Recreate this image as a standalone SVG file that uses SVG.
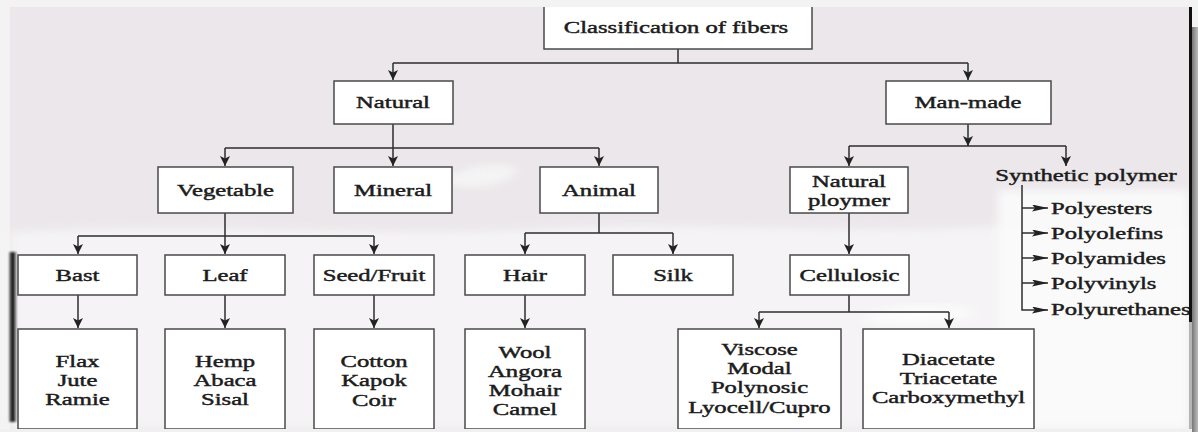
<svg xmlns="http://www.w3.org/2000/svg" width="1198" height="432" viewBox="0 0 1198 432">
<style>
.box{fill:#fff;stroke:#4a4a4a;stroke-width:1.5}
.t{font-family:"Liberation Serif","Times New Roman",serif;font-size:17px;fill:#1c1c1c;stroke:#1c1c1c;stroke-width:0.45;text-anchor:middle}
.tl{text-anchor:start}
.c{fill:none;stroke:#2e2e2e;stroke-width:1.5}
.a{marker-end:url(#ah)}
.as{marker-end:url(#ahs)}
</style>
<defs>
<marker id="ah" markerWidth="10" markerHeight="10" refX="10" refY="5" orient="auto" markerUnits="userSpaceOnUse"><path d="M0,0 L10,5 L0,10 L2.5,5 z" fill="#222"/></marker>
<marker id="ahs" markerWidth="16" markerHeight="7" refX="16" refY="3.5" orient="auto" markerUnits="userSpaceOnUse"><path d="M0,0 L16,3.5 L0,7 L3,3.5 z" fill="#222"/></marker>
<linearGradient id="lg" x1="0" y1="0" x2="1" y2="0"><stop offset="0" stop-color="#9a9a9a"/><stop offset="0.35" stop-color="#111"/><stop offset="0.7" stop-color="#333"/><stop offset="1" stop-color="#e5e5e5"/></linearGradient>
<linearGradient id="rg" x1="0" y1="0" x2="1" y2="0"><stop offset="0" stop-color="#777"/><stop offset="1" stop-color="#bdbdbd"/></linearGradient>
<filter id="bl" x="-10%" y="-10%" width="120%" height="120%"><feGaussianBlur stdDeviation="4"/></filter>
<filter id="bl2" x="-50%" y="-10%" width="200%" height="120%"><feGaussianBlur stdDeviation="1.2"/></filter>
</defs>
<g id="background">
<rect x="0" y="0" width="1198" height="432" fill="#f3f3f3"/>
<rect x="10" y="7" width="1180" height="422" fill="#ebe7ea"/>
<path d="M10,232 C200,222 400,238 560,228 C700,220 850,236 1000,226 L1188,226 L1188,429 L10,429 Z" fill="#f7f6f7" opacity="0.85" filter="url(#bl)"/>
<rect x="998" y="190" width="190" height="239" fill="#fbfbfb" opacity="0.9" filter="url(#bl)"/>
<path d="M440,180 C470,165 500,160 520,170 C505,185 470,195 440,180 Z" fill="#f8f8f8" opacity="0.8" filter="url(#bl)"/>
<path d="M860,318 C890,305 930,300 980,312 C950,326 900,330 860,318 Z" fill="#fdfdfd" opacity="0.9" filter="url(#bl)"/>
<rect x="9" y="252" width="8" height="170" fill="url(#lg)" filter="url(#bl2)"/>
</g>
<g id="connectors">
<path class="c" d="M678,49 V63 M393,63 H968"/>
<path class="c a" d="M393,63 V80"/>
<path class="c a" d="M968,63 V80"/>
<path class="c" d="M393,124 V148 M225,148 H599"/>
<path class="c a" d="M225,148 V166"/>
<path class="c a" d="M393,148 V166"/>
<path class="c a" d="M599,148 V166"/>
<path class="c a" d="M968,124 V146"/>
<path class="c" d="M849,146 H1066"/>
<path class="c a" d="M849,146 V166"/>
<path class="c a" d="M1066,146 V166"/>
<path class="c" d="M225,213 V236 M78,236 H374"/>
<path class="c a" d="M78,236 V254"/>
<path class="c a" d="M225,236 V254"/>
<path class="c a" d="M374,236 V254"/>
<path class="c" d="M599,213 V233 M525,233 H673"/>
<path class="c a" d="M525,233 V254"/>
<path class="c a" d="M673,233 V254"/>
<path class="c a" d="M849,213 V254"/>
<path class="c a" d="M78,295 V328"/>
<path class="c a" d="M225,295 V328"/>
<path class="c a" d="M374,295 V328"/>
<path class="c a" d="M525,295 V328"/>
<path class="c" d="M849,295 V312 M759,312 H949"/>
<path class="c a" d="M759,312 V328"/>
<path class="c a" d="M949,312 V328"/>
<path class="c as" d="M1022,185 V310 H1048"/>
<path class="c as" d="M1022,208 H1048"/>
<path class="c as" d="M1022,233 H1048"/>
<path class="c as" d="M1022,258 H1048"/>
<path class="c as" d="M1022,283 H1048"/>
</g>
<g id="n-classification">
<rect x="544" y="7" width="268" height="42" fill="#fff"/>
<path d="M544,7 V49 H812 V7" fill="none" stroke="#4a4a4a" stroke-width="1.5"/>
<text class="t" transform="matrix(1.45 0 0 1 676 33)">Classification of fibers</text>
</g>
<g id="n-natural"><rect class="box" x="334" y="81" width="119" height="43"/><text class="t" transform="matrix(1.45 0 0 1 393 108)">Natural</text></g>
<g id="n-manmade"><rect class="box" x="886" y="81" width="165" height="43"/><text class="t" transform="matrix(1.45 0 0 1 968 108)">Man-made</text></g>
<g id="n-vegetable"><rect class="box" x="158" y="167" width="135" height="46"/><text class="t" transform="matrix(1.45 0 0 1 225.5 196)">Vegetable</text></g>
<g id="n-mineral"><rect class="box" x="334" y="167" width="118" height="46"/><text class="t" transform="matrix(1.45 0 0 1 393 196)">Mineral</text></g>
<g id="n-animal"><rect class="box" x="540" y="167" width="118" height="46"/><text class="t" transform="matrix(1.45 0 0 1 599 196)">Animal</text></g>
<g id="n-naturalpolymer"><rect class="box" x="790" y="167" width="118" height="46"/><text class="t" transform="matrix(1.45 0 0 1 849 187)">Natural</text><text class="t" transform="matrix(1.45 0 0 1 849 206)">ploymer</text></g>
<g id="n-synthetic"><text class="t" transform="matrix(1.45 0 0 1 1086 181)">Synthetic polymer</text>
<text class="t tl" transform="matrix(1.45 0 0 1 1051 214)">Polyesters</text>
<text class="t tl" transform="matrix(1.45 0 0 1 1051 239)">Polyolefins</text>
<text class="t tl" transform="matrix(1.45 0 0 1 1051 264)">Polyamides</text>
<text class="t tl" transform="matrix(1.45 0 0 1 1051 289)">Polyvinyls</text>
<text class="t tl" transform="matrix(1.45 0 0 1 1051 315)">Polyurethanes</text></g>
<g id="n-bast"><rect class="box" x="18" y="255" width="119" height="40"/><text class="t" transform="matrix(1.45 0 0 1 77.5 281)">Bast</text></g>
<g id="n-leaf"><rect class="box" x="165" y="255" width="120" height="40"/><text class="t" transform="matrix(1.45 0 0 1 225 281)">Leaf</text></g>
<g id="n-seed"><rect class="box" x="314" y="255" width="120" height="40"/><text class="t" transform="matrix(1.45 0 0 1 374 281)">Seed/Fruit</text></g>
<g id="n-hair"><rect class="box" x="465" y="255" width="120" height="40"/><text class="t" transform="matrix(1.45 0 0 1 525 281)">Hair</text></g>
<g id="n-silk"><rect class="box" x="613" y="255" width="120" height="40"/><text class="t" transform="matrix(1.45 0 0 1 673 281)">Silk</text></g>
<g id="n-cellulosic"><rect class="box" x="790" y="255" width="119" height="40"/><text class="t" transform="matrix(1.45 0 0 1 849.5 281)">Cellulosic</text></g>
<g id="n-flax"><rect class="box" x="18" y="329" width="119" height="100"/>
<text class="t" transform="matrix(1.45 0 0 1 77.5 367)">Flax</text><text class="t" transform="matrix(1.45 0 0 1 77.5 386)">Jute</text><text class="t" transform="matrix(1.45 0 0 1 77.5 405)">Ramie</text></g>
<g id="n-hemp"><rect class="box" x="165" y="329" width="120" height="100"/>
<text class="t" transform="matrix(1.45 0 0 1 225 367)">Hemp</text><text class="t" transform="matrix(1.45 0 0 1 225 386)">Abaca</text><text class="t" transform="matrix(1.45 0 0 1 225 405)">Sisal</text></g>
<g id="n-cotton"><rect class="box" x="314" y="329" width="120" height="100"/>
<text class="t" transform="matrix(1.45 0 0 1 374 367)">Cotton</text><text class="t" transform="matrix(1.45 0 0 1 374 386)">Kapok</text><text class="t" transform="matrix(1.45 0 0 1 374 406)">Coir</text></g>
<g id="n-wool"><rect class="box" x="465" y="329" width="120" height="100"/>
<text class="t" transform="matrix(1.45 0 0 1 525 358)">Wool</text><text class="t" transform="matrix(1.45 0 0 1 525 377)">Angora</text><text class="t" transform="matrix(1.45 0 0 1 525 396)">Mohair</text><text class="t" transform="matrix(1.45 0 0 1 525 415)">Camel</text></g>
<g id="n-viscose"><rect class="box" x="678" y="329" width="163" height="100"/>
<text class="t" transform="matrix(1.45 0 0 1 759.5 355)">Viscose</text><text class="t" transform="matrix(1.45 0 0 1 759.5 374)">Modal</text><text class="t" transform="matrix(1.45 0 0 1 759.5 393)">Polynosic</text><text class="t" transform="matrix(1.45 0 0 1 759.5 413)">Lyocell/Cupro</text></g>
<g id="n-diacetate"><rect class="box" x="863" y="329" width="171" height="100"/>
<text class="t" transform="matrix(1.45 0 0 1 948.5 365)">Diacetate</text><text class="t" transform="matrix(1.45 0 0 1 948.5 384)">Triacetate</text><text class="t" transform="matrix(1.45 0 0 1 948.5 403)">Carboxymethyl</text></g>
<g id="frame">
<rect x="1192" y="27" width="6" height="405" fill="url(#rg)"/>
<rect x="1189" y="7" width="3" height="315" fill="#111"/>
<rect x="1189" y="322" width="3" height="110" fill="#b5b5b5"/>
<rect x="0" y="429" width="1192" height="3" fill="#f0f0f0"/>
</g>
</svg>
